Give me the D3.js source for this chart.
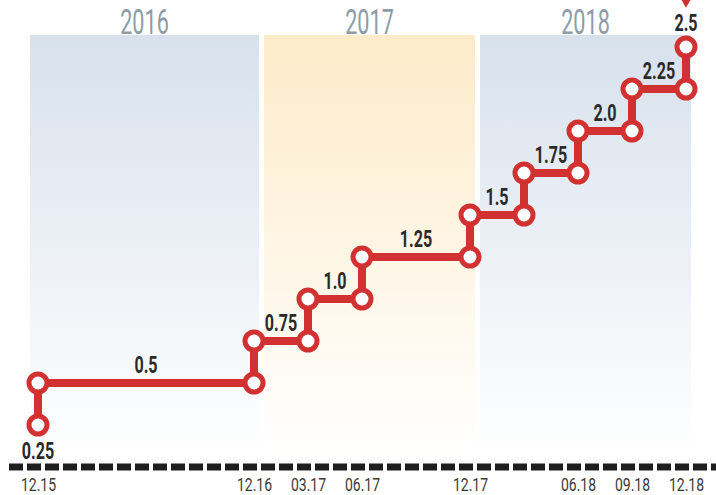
<!DOCTYPE html>
<html lang="en">
<head>
<meta charset="utf-8">
<style>
  body { margin: 0; background: #fff; }
  svg { display: block; }
</style>
</head>
<body>
<script src="https://d3js.org/d3.v7.min.js"></script>
<script>
  // data
  const hikeDates  = ["12.15", "12.16", "03.17", "06.17", "12.17", "03.18", "06.18", "09.18", "12.18"];
  const hikeQuarter = [0, 4, 5, 6, 8, 9, 10, 11, 12];   // quarters since 12.15
  const startRate = 0.25;
  const newRates  = [0.5, 0.75, 1.0, 1.25, 1.5, 1.75, 2.0, 2.25, 2.5];
  const rateLabels = ["0.25", "0.5", "0.75", "1.0", "1.25", "1.5", "1.75", "2.0", "2.25", "2.5"];
  const tickDates = ["12.15", "12.16", "03.17", "06.17", "12.17", "06.18", "09.18", "12.18"];
  const years = ["2016", "2017", "2018"];
  const yearQuarters = [[0, 4], [4, 8], [8, 12]];

  const W = 716, H = 495;
  const red = "#d23131";
  const condensed = "'Roboto', 'Liberation Sans', sans-serif";

  const svg = d3.select("body").append("svg")
      .attr("width", W).attr("height", H);

  const x = d3.scaleLinear().domain([0, 12]).range([38, 686]);
  const y = d3.scaleLinear().domain([0, 2.5]).range([467, 47]);

  const defs = svg.append("defs");
  function grad(id, top) {
    const g = defs.append("linearGradient").attr("id", id)
        .attr("x1", 0).attr("y1", 0).attr("x2", 0).attr("y2", 1);
    g.append("stop").attr("offset", "0%").attr("stop-color", top);
    g.append("stop").attr("offset", "100%").attr("stop-color", "#ffffff");
  }
  grad("gBlue", "#d7e1ec");
  grad("gGold", "#fdebc9");

  // year panels
  years.forEach((yr, i) => {
    const [s, e] = yearQuarters[i];
    const left = i == 0 ? x(s) - 8 : x(s) + 10;
    const right = x(e) + 5;
    svg.append("rect")
        .attr("x", left).attr("y", 35)
        .attr("width", right - left).attr("height", 422)
        .attr("fill", i == 1 ? "url(#gGold)" : "url(#gBlue)");
    svg.append("text")
        .attr("transform", "translate(" + ((left + right) / 2) + ",34) scale(0.6,1)")
        .attr("text-anchor", "middle")
        .style("font-family", condensed)
        .style("font-weight", 400)
        .style("font-size", "36px")
        .style("fill", "#8d9ca8")
        .text(yr);
  });

  // baseline dashes
  svg.append("line")
      .attr("x1", 9).attr("x2", 716)
      .attr("y1", y(0)).attr("y2", y(0))
      .attr("stroke", "#1e1e1e").attr("stroke-width", 7)
      .attr("stroke-dasharray", "14,4");

  // bottom axis labels
  const axis = d3.axisBottom(x)
      .tickValues(hikeQuarter.filter((q, i) => tickDates.includes(hikeDates[i])))
      .tickFormat(q => hikeDates[hikeQuarter.indexOf(q)])
      .tickSize(0).tickPadding(0);
  const ax = svg.append("g").attr("transform", "translate(0,491)").call(axis);
  ax.select(".domain").remove();
  ax.selectAll(".tick text")
      .attr("y", 0).attr("dy", 0)
      .attr("transform", "scale(0.8,1)")
      .style("font-family", condensed)
      .style("font-size", "17.5px")
      .style("fill", "#3a3a3a");

  // step path
  const pts = [[hikeQuarter[0], startRate]];
  newRates.forEach((r, i) => {
    if (i > 0) pts.push([hikeQuarter[i], newRates[i - 1]]);
    pts.push([hikeQuarter[i], r]);
  });
  svg.append("path")
      .attr("d", d3.line().x(d => x(d[0])).y(d => y(d[1]))(pts))
      .attr("fill", "none")
      .attr("stroke", red).attr("stroke-width", 8);

  svg.selectAll("circle.pt")
      .data(pts).enter().append("circle")
      .attr("class", "pt")
      .attr("cx", d => x(d[0])).attr("cy", d => y(d[1]))
      .attr("r", 9)
      .attr("fill", "#fff")
      .attr("stroke", red).attr("stroke-width", 5);

  // value labels
  const labelPos = [[hikeQuarter[0], startRate, 0, 34]];
  newRates.forEach((r, i) => {
    if (i < newRates.length - 1) {
      labelPos.push([(hikeQuarter[i] + hikeQuarter[i + 1]) / 2, r, 0, -10]);
    } else {
      labelPos.push([hikeQuarter[i], r, 0, -16]);
    }
  });
  svg.selectAll("text.val")
      .data(labelPos).enter().append("text")
      .attr("class", "val")
      .attr("transform", d => "translate(" + (x(d[0]) + d[2]) + "," + (y(d[1]) + d[3]) + ") scale(0.7,1)")
      .attr("text-anchor", "middle")
      .style("font-family", condensed)
      .style("font-weight", 700)
      .style("font-size", "23px")
      .style("fill", "#2a2a2a")
      .text((d, i) => rateLabels[i]);

  // marker at top
  svg.append("path")
      .attr("d", d3.symbol(d3.symbolDiamond, 110)())
      .attr("transform", "translate(" + x(12) + ",-2)")
      .attr("fill", red);
</script>
</body>
</html>
